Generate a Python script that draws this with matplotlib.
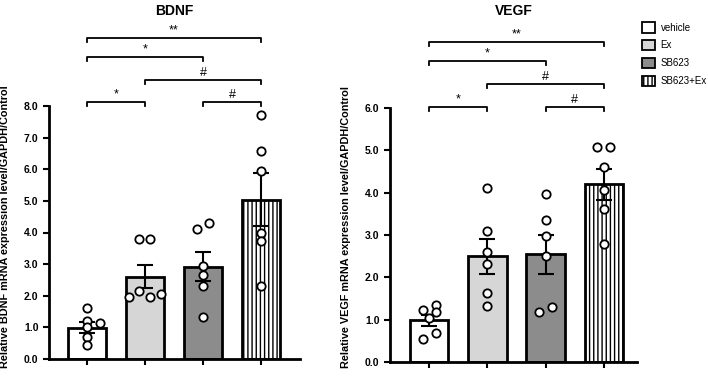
import matplotlib
matplotlib.use("Agg")
import matplotlib.pyplot as plt
from matplotlib.patches import Patch

plt.rcParams['font.family'] = ['Liberation Sans', 'DejaVu Sans']
plt.rcParams['hatch.linewidth'] = 1.0

groups = ["vehicle", "Ex", "SB623", "SB623+Ex"]
colors = ["white", "#d6d6d6", "#8c8c8c", "white"]
hatches = ["", "", "", "||||"]

# BDNF
bdnf_mean = [0.99, 2.60, 2.92, 5.03]
bdnf_sem = [0.17, 0.37, 0.45, 0.84]
bdnf_pts = [[1.61, 1.19, 1.13, 1.00, 0.71, 0.43],
            [3.79, 3.79, 1.95, 2.15, 1.95, 2.07],
            [4.11, 4.30, 2.93, 2.67, 2.30, 1.34],
            [7.71, 6.59, 5.93, 4.00, 3.74, 2.31]]
bdnf_dx = [[0, 0, 0.22, 0, 0, 0],
           [-0.10, 0.09, -0.28, -0.10, 0.09, 0.27],
           [-0.11, 0.11, 0, 0, 0, 0],
           [0, 0, 0, 0, 0, 0]]
bdnf_sig = [(0, 3, 10.16, "**"), (0, 2, 9.56, "*"), (1, 3, 8.83, "#"),
            (0, 1, 8.13, "*"), (2, 3, 8.13, "#")]

# VEGF
vegf_mean = [0.99, 2.50, 2.54, 4.20]
vegf_sem = [0.13, 0.41, 0.46, 0.37]
vegf_pts = [[1.24, 1.34, 1.05, 1.19, 0.68, 0.54],
            [4.11, 3.10, 2.60, 2.32, 1.64, 1.32],
            [3.97, 3.36, 2.98, 2.51, 1.17, 1.29],
            [5.09, 5.09, 4.60, 4.07, 3.62, 2.78]]
vegf_dx = [[-0.11, 0.12, 0, 0.12, 0.12, -0.11],
           [0, 0, 0, 0, 0, 0],
           [0, 0, 0, 0, -0.115, 0.11],
           [-0.11, 0.11, 0, 0, 0, 0]]
vegf_sig = [(0, 3, 7.57, "**"), (0, 2, 7.12, "*"), (1, 3, 6.57, "#"),
            (0, 1, 6.03, "*"), (2, 3, 6.03, "#")]

W, H = 708, 384
fig = plt.figure(figsize=(7.08, 3.84), dpi=100)


def panel(rect, means, sems, pts, dx, sig, ymax, xlim, title, ylabel):
    l, b, r, t = rect
    ax = fig.add_axes([l / W, 1 - b / H, (r - l) / W, (b - t) / H])
    x = range(len(groups))
    ax.bar(x, means, width=0.66, color=colors, edgecolor="black",
           linewidth=2, hatch=hatches, zorder=2)
    ax.errorbar(x, means, yerr=sems, fmt="none", ecolor="black",
                elinewidth=1.5, capsize=6, capthick=1.5, zorder=3)
    for i, vals in enumerate(pts):
        ax.plot([i + d for d in dx[i]], vals, "o", ms=6, mfc="white",
                mec="black", mew=1.3, zorder=4, clip_on=False)
    h = ymax * 0.016
    for a, c, y, s in sig:
        ax.plot([a, a, c, c], [y - h, y, y, y - h], color="black", lw=1.3,
                clip_on=False)
        ax.text((a + c) / 2, y + h * 0.3, s, ha="center", va="bottom",
                fontsize=9, clip_on=False)
    ax.set_xlim(*xlim)
    ax.set_ylim(0, ymax)
    ax.set_yticks([i for i in range(int(ymax) + 1)])
    ax.set_yticklabels(["%.1f" % i for i in range(int(ymax) + 1)],
                       fontweight="bold", fontsize=7.5)
    ax.set_xticks(list(x))
    ax.set_xticklabels([])
    ax.tick_params(axis="both", direction="out", width=1.5, length=4)
    for s in ["top", "right"]:
        ax.spines[s].set_visible(False)
    for s in ["left", "bottom"]:
        ax.spines[s].set_linewidth(2)
    ax.set_ylabel(ylabel, fontsize=7.8, fontweight="bold")
    ax.yaxis.set_label_coords(-39 / (r - l), (b - 227) / (b - t))
    fig.text((l + r) / 2 / W, 1 - 11 / H, title, ha="center", va="center",
             fontsize=10, fontweight="bold")
    return ax


panel((49, 359, 300, 106), bdnf_mean, bdnf_sem, bdnf_pts, bdnf_dx, bdnf_sig,
      8, (-0.655, 3.67), "BDNF",
      "Relative BDNF mRNA expression level/GAPDH/Control")
panel((390, 362, 637, 108), vegf_mean, vegf_sem, vegf_pts, vegf_dx, vegf_sig,
      6, (-0.67, 3.57), "VEGF",
      "Relative VEGF mRNA expression level/GAPDH/Control")

handles = [Patch(facecolor=c, edgecolor="black", hatch=h, linewidth=1.3)
           for c, h in zip(colors, hatches)]
fig.legend(handles, groups, loc="upper left",
           bbox_to_anchor=(642 / W, 1 - 22 / H), frameon=False, fontsize=7,
           handlelength=1.3, handleheight=1.3, labelspacing=0.75,
           handletextpad=0.6, borderaxespad=0, borderpad=0)

fig.savefig("out.png", dpi=100)
